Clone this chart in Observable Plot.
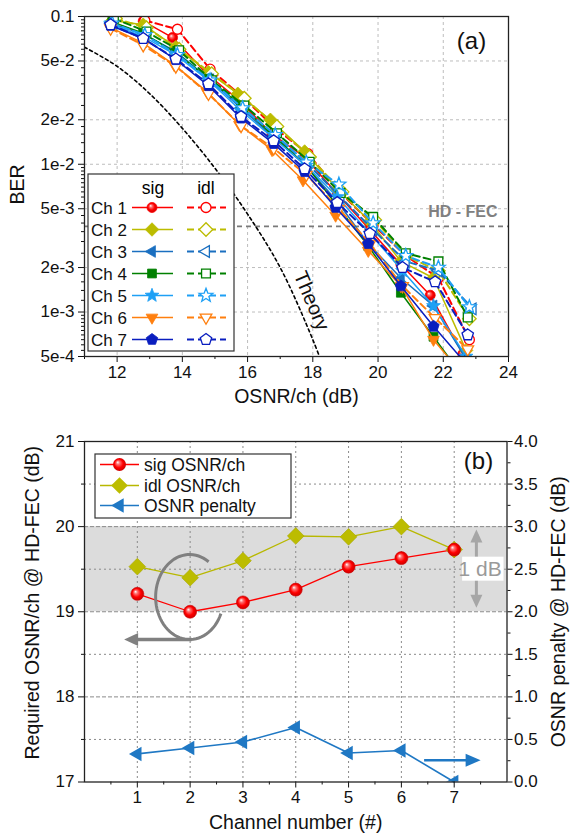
<!DOCTYPE html>
<html><head><meta charset="utf-8">
<script src="https://cdn.jsdelivr.net/npm/d3@7"></script>
<script src="https://cdn.jsdelivr.net/npm/@observablehq/plot@0.6"></script>
<style>
body{margin:0;background:#fff;}
#wrap{position:relative;width:570px;height:838px;font-family:"Liberation Sans",Arial,sans-serif;}
#wrap svg{display:block}
#overlay{position:absolute;left:0;top:0;pointer-events:none}
</style></head><body>
<svg width="0" height="0" style="position:absolute"><defs>
<radialGradient id="ballRed" cx="50%" cy="50%" r="55%" fx="35%" fy="32%">
<stop offset="0" stop-color="#ffffff"/><stop offset="0.25" stop-color="#ff7070"/><stop offset="0.6" stop-color="#ff0000"/><stop offset="1" stop-color="#c00000"/>
</radialGradient></defs></svg>
<div id="wrap"><div id="a"></div><div id="b"></div></div>
<script>
// ---------- Panel (a) data ----------
const xTicksA = [12, 14, 16, 18, 20, 22, 24];
const xMinorA = [11, 13, 15, 17, 19, 21, 23];
const yTicksA = [0.1, 0.05, 0.02, 0.01, 0.005, 0.002, 0.001, 0.0005];
const yTickLabelsA = ["0.1", "5e-2", "2e-2", "1e-2", "5e-3", "2e-3", "1e-3", "5e-4"];
const hdFec = [3.8e-3];
const theory = [[11,0.062],[12,0.046],[13,0.030],[14,0.0175],[15,0.0094],[16,0.0046],[17,0.0020],[18,0.00065],[18.4,0.00038]];
const channels = ["Ch 1","Ch 2","Ch 3","Ch 4","Ch 5","Ch 6","Ch 7"];

const sigCh1 = [[12.8,0.093],[13.7,0.072],[14.75,0.041],[15.75,0.027],[16.75,0.016],[17.75,0.0112],[18.75,0.0063],[19.75,0.0036],[20.7,0.0021],[21.6,0.0013],[22.6,0.00052]];
const idlCh1 = [[12.85,0.094],[13.85,0.082],[14.85,0.044],[15.85,0.0285],[16.85,0.0175],[17.85,0.0118],[18.85,0.0064],[19.85,0.0039],[20.85,0.0024],[21.85,0.0017],[22.8,0.00065]];
const sigCh2 = [[11.85,0.094],[12.8,0.088],[13.8,0.062],[14.8,0.042],[15.7,0.030],[16.7,0.020],[17.75,0.0122],[18.75,0.0068],[19.75,0.0041],[20.7,0.0022],[21.7,0.0017],[22.7,0.00055]];
const idlCh2 = [[11.95,0.097],[12.9,0.084],[13.9,0.060],[14.9,0.041],[15.9,0.028],[16.9,0.018],[17.9,0.0112],[18.9,0.0065],[19.9,0.0042],[20.85,0.0024],[21.85,0.0019],[22.8,0.0009]];
const sigCh3 = [[11.8,0.090],[12.8,0.076],[13.8,0.058],[14.8,0.038],[15.8,0.024],[16.8,0.0152],[17.8,0.0097],[18.75,0.0056],[19.7,0.0029],[20.7,0.0017],[21.7,0.0011],[22.7,0.00048]];
const idlCh3 = [[11.85,0.091],[12.85,0.075],[13.85,0.056],[14.85,0.037],[15.85,0.024],[16.85,0.0155],[17.85,0.0100],[18.85,0.0060],[19.85,0.0036],[20.85,0.0022],[21.85,0.0019],[22.9,0.00105]];
const sigCh4 = [[11.85,0.092],[12.8,0.077],[13.8,0.057],[14.8,0.038],[15.8,0.025],[16.8,0.0155],[17.8,0.0098],[18.7,0.0054],[19.7,0.0028],[20.7,0.00135],[21.7,0.00068],[22.4,0.00042]];
const idlCh4 = [[11.9,0.097],[12.9,0.079],[13.9,0.059],[14.9,0.037],[15.9,0.025],[16.9,0.0162],[17.9,0.0104],[18.85,0.0064],[19.85,0.0044],[20.85,0.0025],[21.85,0.0022],[22.75,0.00092]];
const sigCh5 = [[11.8,0.089],[12.8,0.073],[13.8,0.055],[14.8,0.037],[15.8,0.023],[16.8,0.0150],[17.8,0.0098],[18.75,0.0060],[19.75,0.0034],[20.75,0.0019],[21.7,0.0011],[22.7,0.00050]];
const idlCh5 = [[11.85,0.090],[12.85,0.075],[13.85,0.055],[14.85,0.037],[15.85,0.024],[16.85,0.0158],[17.8,0.0103],[18.8,0.0073],[19.85,0.0040],[20.85,0.0024],[21.85,0.0020],[22.8,0.00108]];
const sigCh6 = [[11.8,0.084],[12.8,0.066],[13.75,0.047],[14.75,0.031],[15.75,0.0185],[16.75,0.0125],[17.7,0.0078],[18.7,0.0045],[19.7,0.0026],[20.7,0.0015],[21.7,0.00065],[22.5,0.00040]];
const idlCh6 = [[11.8,0.083],[12.8,0.064],[13.8,0.046],[14.8,0.030],[15.8,0.0182],[16.8,0.0128],[17.8,0.0085],[18.8,0.0050],[19.75,0.0029],[20.75,0.0015],[21.75,0.00091],[22.75,0.00056]];
const sigCh7 = [[11.8,0.087],[12.8,0.071],[13.8,0.051],[14.8,0.034],[15.8,0.0205],[16.8,0.0138],[17.75,0.0089],[18.7,0.0051],[19.7,0.0029],[20.7,0.0015],[21.7,0.00080],[22.65,0.00046]];
const idlCh7 = [[11.8,0.088],[12.8,0.071],[13.8,0.0515],[14.8,0.035],[15.8,0.021],[16.8,0.0144],[17.75,0.0093],[18.75,0.0055],[19.75,0.0034],[20.75,0.0020],[21.75,0.0016],[22.75,0.00070]];

// ---------- Panel (b) data ----------
const channelNumbers = [1, 2, 3, 4, 5, 6, 7];
const sigOSNR = [19.21, 19.00, 19.11, 19.26, 19.53, 19.63, 19.73];
const idlOSNR = [19.53, 19.40, 19.60, 19.89, 19.88, 20.00, 19.73];
const osnrPenalty = [0.33, 0.40, 0.47, 0.64, 0.34, 0.37, 0.00];
const yTicksBLeft = [17, 18, 19, 20, 21];
const yTicksBRight = [0, 0.5, 1, 1.5, 2, 2.5, 3, 3.5, 4];
const hdBand = [{lo: 19, hi: 20}];

// ---------- styles ----------
const FONT = '"Liberation Sans", Arial, sans-serif';
const TICK = 17, TITLE = 19.5, LEG = 17.5;
const chColors = ["#ff0000", "#bcbc00", "#1a6fc0", "#008000", "#1ea0f5", "#ff7f0e", "#0a1ebf"];

function poly(angles, k) {
  return {draw(ctx, size) {
    const r = Math.sqrt(size / Math.PI) * k;
    angles.forEach((a, i) => { const t = a * Math.PI / 180; const x = r * Math.cos(t), y = r * Math.sin(t); i ? ctx.lineTo(x, y) : ctx.moveTo(x, y); });
    ctx.closePath();
  }};
}
const symCircle = {draw(ctx, size) { const r = Math.sqrt(size / Math.PI); ctx.moveTo(r, 0); ctx.arc(0, 0, r, 0, 2 * Math.PI); }};
const symLeftTri = poly([180, 300, 60], 1.35);
const symDownTri = poly([90, 210, 330], 1.35);
const symPentagon = poly([-90, -18, 54, 126, 198], 1.2);
const symDiamond = poly([0, 90, 180, 270], 1.35);
const symSquare = poly([45, 135, 225, 315], 1.25);
const symStar = {draw(ctx, size) {
  const R = Math.sqrt(size / Math.PI) * 1.45, r = R * 0.42;
  for (let i = 0; i < 10; i++) { const rad = i % 2 ? r : R; const t = (-90 + 36 * i) * Math.PI / 180; const x = rad * Math.cos(t), y = rad * Math.sin(t); i ? ctx.lineTo(x, y) : ctx.moveTo(x, y); }
  ctx.closePath();
}};
const chSymbols = [symCircle, symDiamond, symLeftTri, symSquare, symStar, symDownTri, symPentagon];
const sigData = [sigCh1, sigCh2, sigCh3, sigCh4, sigCh5, sigCh6, sigCh7];
const idlData = [idlCh1, idlCh2, idlCh3, idlCh4, idlCh5, idlCh6, idlCh7];
const series = channels.map((name, i) => ({name, color: chColors[i], sym: chSymbols[i], sig: sigData[i], idl: idlData[i], sigFill: i === 0 ? "url(#ballRed)" : chColors[i]}));

const px = d => d[0], py = d => d[1];
const yMinorA = [];
[1e-4, 1e-3, 1e-2].forEach(dec => {
  [1.2, 1.4, 1.6, 1.8, 2.5, 3, 3.5, 4, 4.5, 5.5, 6, 6.5, 7, 7.5, 8, 8.5, 9, 9.5].forEach(m => { const v = +(m * dec).toPrecision(6); if (v > 5e-4 && v < 0.1) yMinorA.push(v); });
});

const plotA = Plot.plot({
  width: 570, height: 410,
  marginTop: 16, marginBottom: 54, marginLeft: 84, marginRight: 62,
  x: {domain: [11, 24]},
  y: {type: "log", domain: [5e-4, 0.1]},
  style: {fontFamily: FONT, fontSize: TICK + "px", color: "#111", background: "white", overflow: "visible"},
  marks: [
    Plot.ruleX(xTicksA.slice(0, -1), {stroke: "#bdbdbd", strokeDasharray: "3,3"}),
    Plot.ruleY(yTicksA.slice(1, -1), {stroke: "#bdbdbd", strokeDasharray: "3,3"}),
    Plot.ruleY(hdFec, {stroke: "#7a7a7a", strokeWidth: 1.6, strokeDasharray: "5,4"}),
    Plot.line(theory, {x: px, y: py, stroke: "#000", strokeWidth: 1.6, strokeDasharray: "3,3", curve: "catmull-rom", clip: true}),
    ...series.flatMap(s => [
      Plot.line(s.sig, {x: px, y: py, stroke: s.color, strokeWidth: 1.5, clip: true}),
      Plot.line(s.idl, {x: px, y: py, stroke: s.color, strokeWidth: 2, strokeDasharray: "7,4", clip: true}),
      Plot.dot(s.sig, {x: px, y: py, symbol: s.sym, r: 5, fill: s.sigFill, stroke: s.color, strokeWidth: 0.8, clip: true}),
      Plot.dot(s.idl, {x: px, y: py, symbol: s.sym, r: 5, fill: "white", stroke: s.color, strokeWidth: 1.3, clip: true})
    ]),
    Plot.text(["HD - FEC"], {text: d => d, x: 22.6, y: 4.75e-3, fill: "#808080", fontWeight: "bold", fontSize: 16}),
    Plot.text(["Theory"], {text: d => d, x: 17.96, y: 1.19e-3, rotate: 67, fontSize: 20, fill: "#111"}),
    Plot.text(["(a)"], {text: d => d, frameAnchor: "top-right", textAnchor: "middle", lineAnchor: "middle", dx: -37, dy: 25, fontSize: 24, fill: "#111"}),
    Plot.axisX({ticks: xTicksA, tickSize: 6, tickPadding: 3, label: null, fontSize: TICK}),
    Plot.axisX({ticks: xMinorA, tickSize: 3, tickFormat: () => "", label: null}),
    Plot.axisY({ticks: yTicksA, tickSize: 6, tickFormat: () => "", label: null}),
    Plot.text(yTicksA, {y: d => d, text: (d, i) => yTickLabelsA[i], frameAnchor: "left", textAnchor: "end", lineAnchor: "middle", dx: -10, fontSize: TICK, fill: "#111"}),
    Plot.axisY({ticks: yMinorA, tickSize: 3, tickFormat: () => "", label: null}),
    Plot.text(["OSNR/ch (dB)"], {text: d => d, frameAnchor: "bottom", lineAnchor: "middle", dy: 40, fontSize: TITLE, fill: "#111"}),
    Plot.text(["BER"], {text: d => d, frameAnchor: "left", textAnchor: "middle", lineAnchor: "middle", dx: -67, dy: -2, rotate: -90, fontSize: TITLE, fill: "#111"}),
    Plot.frame({stroke: "#222", strokeWidth: 1.3})
  ]
});
document.getElementById("a").appendChild(plotA);

// ---------- Panel (b) ----------
const penaltyZero = yTicksBLeft[0];
const tableB = channelNumbers.map((c, i) => ({ch: c, sig: sigOSNR[i], idl: idlOSNR[i], pen: osnrPenalty[i]}));
const rightMinor = d3.range(0.25, 4, 0.5);
const plotB = Plot.plot({
  width: 570, height: 428,
  marginTop: 31, marginBottom: 56.5, marginLeft: 84, marginRight: 63.5,
  x: {domain: [0, 8]},
  y: {domain: [17, 21]},
  style: {fontFamily: FONT, fontSize: TICK + "px", color: "#111", background: "white", overflow: "visible"},
  marks: [
    Plot.rect(hdBand, {x1: 0, x2: 8, y1: "lo", y2: "hi", fill: "#dcdcdc"}),
    Plot.ruleX(channelNumbers, {stroke: "#8a8a8a", strokeDasharray: "2,3"}),
    Plot.ruleY([17.5, 18.5, 19.5, 20.5], {stroke: "#8a8a8a", strokeDasharray: "2,3"}),
    Plot.ruleY([18, 19, 20], {stroke: "#8a8a8a", strokeDasharray: "4,2"}),
    Plot.line(tableB, {x: "ch", y: "idl", stroke: "#b8b800", strokeWidth: 1.3}),
    Plot.line(tableB, {x: "ch", y: "sig", stroke: "#ff0000", strokeWidth: 1.3}),
    Plot.line(tableB, {x: "ch", y: d => penaltyZero + d.pen, stroke: "#1f78c4", strokeWidth: 1.6}),
    Plot.dot(tableB, {x: "ch", y: "idl", symbol: symDiamond, r: 6.2, fill: "#bcbc00", stroke: "#a8a800", strokeWidth: 0.6}),
    Plot.dot(tableB, {x: "ch", y: "sig", symbol: symCircle, r: 6.5, fill: "url(#ballRed)", stroke: "#d00000", strokeWidth: 0.6}),
    Plot.dot(tableB, {x: "ch", y: d => penaltyZero + d.pen, symbol: symLeftTri, r: 6.2, fill: "#1f78c4", clip: true}),
    Plot.text(["(b)"], {text: d => d, frameAnchor: "top-right", textAnchor: "middle", lineAnchor: "middle", dx: -28.5, dy: 20, fontSize: 24, fill: "#111"}),
    Plot.axisX({ticks: channelNumbers, tickSize: 6, tickPadding: 3, tickFormat: d => String(d), label: null, fontSize: TICK}),
    Plot.axisX({ticks: d3.range(0.5, 8, 1), tickSize: 3, tickFormat: () => "", label: null}),
    Plot.axisY({ticks: yTicksBLeft, anchor: "left", tickSize: 6, tickPadding: 4, tickFormat: d => String(d), label: null, fontSize: TICK}),
    Plot.axisY({ticks: [17.5, 18.5, 19.5, 20.5], anchor: "left", tickSize: 3, tickFormat: () => "", label: null}),
    Plot.axisY({ticks: yTicksBRight.map(v => penaltyZero + v), anchor: "right", tickSize: 5, tickPadding: 2, tickFormat: d => (d - penaltyZero).toFixed(1), label: null, fontSize: TICK}),
    Plot.axisY({ticks: rightMinor.map(v => penaltyZero + v), anchor: "right", tickSize: 3, tickFormat: () => "", label: null}),
    Plot.text(["Channel number (#)"], {text: d => d, frameAnchor: "bottom", lineAnchor: "middle", dy: 40.5, fontSize: TITLE, fill: "#111"}),
    Plot.text(["Required OSNR/ch @ HD-FEC (dB)"], {text: d => d, frameAnchor: "left", textAnchor: "middle", lineAnchor: "middle", dx: -52, dy: -9, rotate: -90, fontSize: TITLE, fill: "#111"}),
    Plot.text(["OSNR penalty @ HD-FEC (dB)"], {text: d => d, frameAnchor: "right", textAnchor: "middle", lineAnchor: "middle", dx: 52, rotate: -90, fontSize: TITLE, fill: "#111"}),
    Plot.frame({stroke: "#222", strokeWidth: 1.3})
  ]
});
document.getElementById("b").appendChild(plotB);

// ---------- overlay: legends and annotations ----------
const wrapRect = document.getElementById("wrap").getBoundingClientRect();
const bTop = plotB.getBoundingClientRect().top - wrapRect.top;
const ov = d3.select("#wrap").append("svg").attr("id", "overlay").attr("width", 570).attr("height", 838)
  .style("font-family", FONT);
const symPath = (sym, r) => { const p = d3.path(); sym.draw(p, r * r * Math.PI); return p.toString(); };

// legend (a)
const lgA = ov.append("g");
lgA.append("rect").attr("x", 88).attr("y", 174).attr("width", 146).attr("height", 177)
  .attr("fill", "white").attr("stroke", "#333").attr("stroke-width", 1.2);
lgA.append("text").attr("x", 153).attr("y", 194).attr("text-anchor", "middle").attr("font-size", LEG).text("sig");
lgA.append("text").attr("x", 206).attr("y", 194).attr("text-anchor", "middle").attr("font-size", LEG).text("idl");
series.forEach((s, i) => {
  const cy = 207.5 + 22 * i;
  lgA.append("text").attr("x", 91).attr("y", cy + 6).attr("font-size", LEG - 0.5).attr("fill", "#111").text(s.name);
  lgA.append("line").attr("x1", 132).attr("x2", 173).attr("y1", cy).attr("y2", cy).attr("stroke", s.color).attr("stroke-width", 1.6);
  lgA.append("path").attr("d", symPath(s.sym, 5)).attr("transform", `translate(152,${cy})`).attr("fill", s.sigFill).attr("stroke", s.color).attr("stroke-width", 0.8);
  lgA.append("line").attr("x1", 187).attr("x2", 226).attr("y1", cy).attr("y2", cy).attr("stroke", s.color).attr("stroke-width", 2).attr("stroke-dasharray", "7,4");
  lgA.append("path").attr("d", symPath(s.sym, 5)).attr("transform", `translate(206,${cy})`).attr("fill", "white").attr("stroke", s.color).attr("stroke-width", 1.3);
});

// legend (b)
const lgB = ov.append("g");
lgB.append("rect").attr("x", 95).attr("y", 454).attr("width", 196).attr("height", 64)
  .attr("fill", "white").attr("stroke", "#333").attr("stroke-width", 1.2);
const legBItems = [
  {label: "sig OSNR/ch", color: "#ff0000", sym: symCircle, fill: "url(#ballRed)", r: 6.5},
  {label: "idl OSNR/ch", color: "#b8b800", sym: symDiamond, fill: "#bcbc00", r: 6.2},
  {label: "OSNR penalty", color: "#1f78c4", sym: symLeftTri, fill: "#1f78c4", r: 6.2}
];
legBItems.forEach((it, i) => {
  const cy = [464.5, 485.5, 505.5][i];
  lgB.append("line").attr("x1", 100).attr("x2", 139).attr("y1", cy).attr("y2", cy).attr("stroke", it.color).attr("stroke-width", 1.4);
  lgB.append("path").attr("d", symPath(it.sym, it.r)).attr("transform", `translate(119.5,${cy})`).attr("fill", it.fill);
  lgB.append("text").attr("x", 144).attr("y", cy + 6.3).attr("font-size", LEG).attr("fill", "#111").text(it.label);
});

// annotations (b)
const sx = plotB.scale("x"), sy = plotB.scale("y");
const X = v => sx.apply(v), Y = v => bTop + sy.apply(v);
function arrowHead(g, x, y, dir, len, half, color) {
  const [dx, dy] = dir, nx = -dy, ny = dx;
  const bx = x - dx * len, by = y - dy * len;
  g.append("path").attr("d", `M${x},${y}L${bx + nx * half},${by + ny * half}L${bx - nx * half},${by - ny * half}Z`).attr("fill", color);
}
const ann = ov.append("g");
// 1 dB double arrow
const ax = X(7.43);
ann.append("line").attr("x1", ax).attr("x2", ax).attr("y1", Y(19.96) + 10).attr("y2", Y(19.04) - 10).attr("stroke", "#a6a6a6").attr("stroke-width", 3);
arrowHead(ann, ax, Y(19.96), [0, -1], 13, 6, "#a6a6a6");
arrowHead(ann, ax, Y(19.04), [0, 1], 13, 6, "#a6a6a6");
ann.append("rect").attr("x", X(7.16)).attr("y", Y(19.5) - 12).attr("width", X(8) - X(7.16) - 3).attr("height", 24).attr("fill", "white");
ann.append("text").attr("x", X(7.5)).attr("y", Y(19.5) + 7.5).attr("text-anchor", "middle").attr("font-size", 21).attr("fill", "#9a9a9a").text("1 dB");
// grey C-shaped arc with left arrow
const cxA = X(2), cyA = Y(19.167), rxA = 34, ryA = 42.5;
const arc = d3.path();
for (let k = 0; k <= 60; k++) {
  const a = (-56 - 281 * k / 60) * Math.PI / 180;
  const xx = cxA + rxA * Math.cos(a), yy = cyA + ryA * Math.sin(a);
  k ? arc.lineTo(xx, yy) : arc.moveTo(xx, yy);
}
ann.append("path").attr("d", arc.toString()).attr("fill", "none").attr("stroke", "#808080").attr("stroke-width", 3);
const arY = cyA + ryA;
ann.append("line").attr("x1", cxA + 2).attr("x2", X(0.76) + 12).attr("y1", arY).attr("y2", arY).attr("stroke", "#808080").attr("stroke-width", 3.5);
arrowHead(ann, X(0.76), arY, [-1, 0], 14, 6.5, "#808080");
// blue right arrow
const byA = Y(penaltyZero + 0.25);
ann.append("line").attr("x1", X(6.44)).attr("x2", X(7.51) - 12).attr("y1", byA).attr("y2", byA).attr("stroke", "#1f78c4").attr("stroke-width", 2.6);
arrowHead(ann, X(7.51), byA, [1, 0], 15, 6.5, "#1f78c4");
</script>
</body></html>
